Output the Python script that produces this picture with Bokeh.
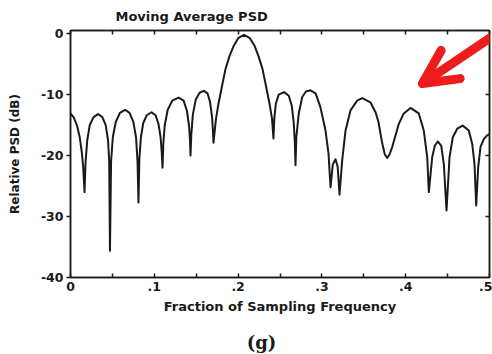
from bokeh.plotting import figure
from bokeh.layouts import column
from bokeh.models import LinearAxis, FixedTicker, Label, Arrow, OpenHead, Title
from bokeh.embed import file_html
from bokeh.resources import INLINE

# ---- data ----
freq = [
    0.0000, 0.0040, 0.0080, 0.0110, 0.0135, 0.0152, 0.0167,
    0.0180, 0.0200, 0.0230, 0.0275, 0.0328, 0.0380, 0.0420, 0.0448, 0.0462, 0.0471,
    0.0484, 0.0505, 0.0540, 0.0590, 0.0650, 0.0705, 0.0750, 0.0782, 0.0800, 0.0811,
    0.0822, 0.0840, 0.0868, 0.0910, 0.0967, 0.1015, 0.1050, 0.1075, 0.1089, 0.1098,
    0.1108, 0.1125, 0.1160, 0.1215, 0.1289, 0.1350, 0.1390, 0.1415, 0.1426, 0.1432,
    0.1442, 0.1460, 0.1495, 0.1540, 0.1593, 0.1635, 0.1665, 0.1690, 0.1700, 0.1706,
    0.1736, 0.1766, 0.1802, 0.1850, 0.1897, 0.1945, 0.2005, 0.2070, 0.2136, 0.2196,
    0.2243, 0.2291, 0.2339, 0.2375, 0.2405, 0.2422,
    0.2432, 0.2450, 0.2485, 0.2548, 0.2605, 0.2640, 0.2663, 0.2676, 0.2685,
    0.2695, 0.2724, 0.2765, 0.2810, 0.2864, 0.2925, 0.2983, 0.3043, 0.3079, 0.3103,
    0.3130, 0.3162, 0.3188, 0.3210,
    0.3242, 0.3282, 0.3341, 0.3421, 0.3481, 0.3580, 0.3640, 0.3675, 0.3720, 0.3750,
    0.3779, 0.3808, 0.3839, 0.3918, 0.3977, 0.4057, 0.4156, 0.4216, 0.4257, 0.4276,
    0.4316, 0.4347, 0.4383, 0.4424, 0.4455, 0.4487,
    0.4523, 0.4562, 0.4615, 0.4681, 0.4753, 0.4794, 0.4821, 0.4841,
    0.4865, 0.4893, 0.4932, 0.4972, 0.5000,
]
psd_db = [
    -13.1, -13.8, -15.2, -17.0, -19.5, -22.0, -26.0,
    -21.0, -17.5, -15.0, -13.7, -13.2, -13.7, -15.0, -17.5, -21.0, -35.6,
    -21.0, -17.0, -14.5, -13.0, -12.5, -13.0, -14.5, -17.0, -21.0, -27.7,
    -20.5, -17.0, -14.7, -13.4, -12.9, -13.4, -14.8, -17.0, -19.5, -22.0,
    -18.0, -15.0, -12.5, -11.0, -10.5, -11.0, -12.7, -15.2, -17.5, -20.0,
    -16.5, -13.3, -10.8, -9.7, -9.4, -9.8, -11.2, -13.8, -16.0, -17.9,
    -14.0, -11.5, -9.0, -5.8, -3.7, -2.1, -0.7, -0.2, -0.7, -2.0,
    -3.7, -5.8, -9.0, -11.5, -14.0, -17.2,
    -14.0, -11.5, -10.0, -9.6, -10.2, -11.8, -14.5, -17.5, -21.6,
    -17.0, -13.1, -10.4, -9.5, -9.3, -9.8, -12.1, -15.9, -19.7, -25.2,
    -21.5, -20.6, -21.8, -26.4,
    -20.8, -15.9, -12.6, -11.0, -10.6, -11.3, -12.9, -14.5, -18.0, -19.8,
    -20.4, -19.8, -18.6, -14.8, -13.1, -12.2, -13.1, -15.9, -20.3, -26.0,
    -20.3, -18.4, -17.7, -18.4, -21.4, -29.0,
    -20.3, -17.0, -15.6, -15.1, -15.9, -18.1, -21.4, -28.2,
    -21.9, -18.6, -17.3, -16.7, -16.5,
]
assert len(freq) == len(psd_db)

x_ticks = [0.0, 0.1, 0.2, 0.3, 0.4, 0.5]
x_tick_labels = ["0", ".1", ".2", ".3", ".4", ".5"]
x_minor_ticks = [0.05, 0.15, 0.25, 0.35, 0.45]
y_ticks = [0, -10, -20, -30, -40]
y_tick_labels = ["0", "-10", "-20", "-30", "-40"]
right_ticks = [-10, -20, -30]

title_text = "Moving Average PSD"
x_label = "Fraction of Sampling Frequency"
y_label = "Relative PSD (dB)"
panel_tag = "(g)"

FONT = "DejaVu Sans"
INK = "#1a1a1a"
RED = "#ee1c1c"

p = figure(width=492, height=330, x_range=(0, 0.5), y_range=(-40, 0.5),
           output_backend="svg", toolbar_location=None,
           min_border_left=70, min_border_right=3, min_border_top=30, min_border_bottom=53,
           background_fill_color="white", border_fill_color="white")
p.xgrid.visible = False
p.ygrid.visible = False
p.outline_line_color = INK
p.outline_line_width = 1.5

p.title = Title(text=title_text, align="left", offset=45, vertical_align="top",
                standoff=10, text_font=FONT, text_font_style="bold",
                text_font_size="13px", text_color=INK)

p.line(freq, psd_db, line_width=2, line_color=INK, line_join="round")

# bottom axis
xa = p.xaxis[0]
xa.ticker = FixedTicker(ticks=x_ticks, minor_ticks=x_minor_ticks)
xa.major_label_overrides = dict(zip(x_ticks, x_tick_labels))
xa.major_tick_in = 4
xa.major_tick_out = 0
xa.minor_tick_in = 4
xa.minor_tick_out = 0
xa.major_label_standoff = 4
xa.axis_label = x_label
xa.axis_label_standoff = 5

# left axis
ya = p.yaxis[0]
ya.ticker = FixedTicker(ticks=y_ticks, minor_ticks=[])
ya.major_label_overrides = dict(zip(y_ticks, y_tick_labels))
ya.major_tick_in = 0
ya.major_tick_out = 4
ya.major_label_standoff = 3
ya.axis_label = y_label
ya.axis_label_standoff = 16

for ax in (xa, ya):
    ax.axis_line_color = INK
    ax.axis_line_width = 1.5
    ax.major_tick_line_color = INK
    ax.minor_tick_line_color = INK
    ax.major_tick_line_width = 1.5
    ax.minor_tick_line_width = 1.5
    ax.major_label_text_font = FONT
    ax.major_label_text_font_style = "bold"
    ax.major_label_text_font_size = "12.5px"
    ax.major_label_text_color = INK
    ax.axis_label_text_font = FONT
    ax.axis_label_text_font_style = "bold"
    ax.axis_label_text_color = INK
xa.axis_label_text_font_size = "13px"
ya.axis_label_text_font_size = "12px"

# top and right axes: inward ticks only
top = LinearAxis(ticker=FixedTicker(ticks=x_ticks, minor_ticks=x_minor_ticks),
                 major_label_overrides={t: "" for t in x_ticks},
                 major_label_text_font_size="0px", major_label_standoff=0,
                 major_tick_in=4, major_tick_out=0, minor_tick_in=4, minor_tick_out=0,
                 axis_line_color=INK, axis_line_width=1.5,
                 major_tick_line_color=INK, minor_tick_line_color=INK,
                 major_tick_line_width=1.5, minor_tick_line_width=1.5)
right = LinearAxis(ticker=FixedTicker(ticks=right_ticks, minor_ticks=[]),
                   major_label_overrides={t: "" for t in right_ticks},
                   major_label_text_font_size="0px", major_label_standoff=0,
                   major_tick_in=4, major_tick_out=0, minor_tick_in=0, minor_tick_out=0,
                   axis_line_color=INK, axis_line_width=1.5,
                   major_tick_line_color=INK, major_tick_line_width=1.5)
p.add_layout(top, "above")
p.add_layout(right, "right")

# red arrow
p.add_layout(Arrow(end=OpenHead(size=34, line_color=RED, line_width=9,
                                line_cap="round", line_join="round"),
                   x_start=0.51, y_start=0.15, x_end=0.42, y_end=-8.2,
                   line_color=RED, line_width=9, line_cap="round"))

# panel tag "(g)" in a strip below the chart (frame is aligned with the chart's frame)
tag = figure(width=492, height=24, x_range=(0, 0.5), y_range=(0, 24),
             output_backend="svg", toolbar_location=None, min_border=0,
             x_axis_location=None, y_axis_location=None,
             background_fill_color="white", border_fill_color="white")
tag.xgrid.visible = False
tag.ygrid.visible = False
tag.outline_line_color = None
tag.add_layout(Label(x=0.228, y=12, text=panel_tag, text_font="DejaVu Serif",
                     text_font_style="bold", text_font_size="18px", text_color=INK,
                     text_align="center", text_baseline="middle"))

layout = column(p, tag, spacing=0)
open("out.html", "w").write(file_html(layout, INLINE))
